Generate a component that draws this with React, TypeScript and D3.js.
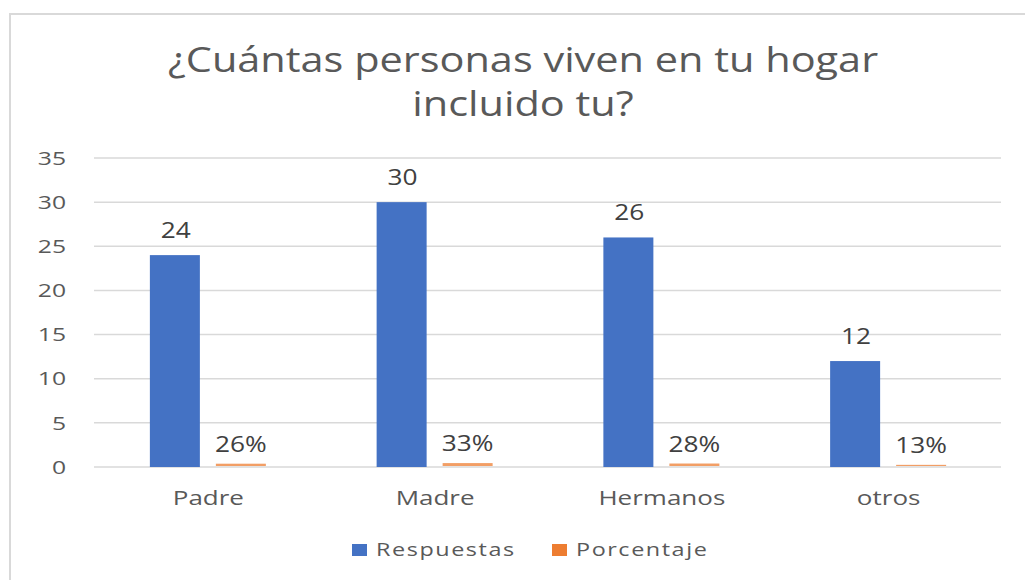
import { useEffect, useRef } from "react";
import * as d3 from "d3";

const categories = ["Padre", "Madre", "Hermanos", "otros"];
const respuestas = [24, 30, 26, 12];
const porcentaje = [0.26, 0.33, 0.28, 0.13];
const porcentajeLabels = ["26%", "33%", "28%", "13%"];
const yTicks = [0, 5, 10, 15, 20, 25, 30, 35];
const titleLines = ["¿Cuántas personas viven en tu hogar", "incluido tu?"];
const seriesNames = ["Respuestas", "Porcentaje"];

const W = 1025;
const H = 580;
const PLOT = { left: 94, right: 1001, top: 158, bottom: 467 };
const BLUE = "#4472C4";
const ORANGE = "#ED7D31";
const TEXT = "#595959";
const FONT = "'Open Sans', 'Noto Sans', sans-serif";
// the source picture is stretched sideways a little
const SX = 1.25;

export default function App() {
  const svgRef = useRef<SVGSVGElement>(null);

  useEffect(() => {
    if (!svgRef.current) return;
    const svg = d3.select(svgRef.current);
    svg.selectAll("*").remove();

    const x = d3
      .scaleBand<string>()
      .domain(categories)
      .range([PLOT.left, PLOT.right]);
    const y = d3.scaleLinear().domain([0, 35]).range([PLOT.bottom, PLOT.top]);

    const barW = 50;
    const gap = 15;

    const put = (tx: number, ty: number, s = SX) => `translate(${tx},${ty}) scale(${s},1)`;

    // chart frame
    svg
      .append("rect")
      .attr("x", 10)
      .attr("y", 14)
      .attr("width", W + 20)
      .attr("height", H + 20)
      .attr("fill", "#fff")
      .attr("stroke", "#d9d9d9")
      .attr("stroke-width", 2);

    // title
    svg
      .append("g")
      .selectAll("text")
      .data(titleLines)
      .join("text")
      .attr("transform", (_, i) => put(523, 72 + i * 44, 1.22))
      .attr("text-anchor", "middle")
      .attr("font-family", FONT)
      .attr("font-size", 34)
      .attr("fill", TEXT)
      .text((d) => d);

    // gridlines
    svg
      .append("g")
      .selectAll("line")
      .data(yTicks)
      .join("line")
      .attr("x1", PLOT.left)
      .attr("x2", PLOT.right)
      .attr("y1", (d) => y(d))
      .attr("y2", (d) => y(d))
      .attr("stroke", "#d9d9d9")
      .attr("stroke-width", 1.5);

    // y tick labels
    svg
      .append("g")
      .selectAll("text")
      .data(yTicks)
      .join("text")
      .attr("transform", (d) => put(66, y(d), 1.3))
      .attr("dy", "0.35em")
      .attr("text-anchor", "end")
      .attr("font-family", FONT)
      .attr("font-size", 19)
      .attr("fill", TEXT)
      .text((d) => d);

    const groups = svg
      .append("g")
      .selectAll("g")
      .data(categories)
      .join("g")
      .attr("transform", (d) => `translate(${(x(d) ?? 0) + x.bandwidth() / 2},0)`);

    // Respuestas bars
    groups
      .append("rect")
      .attr("x", -barW - gap / 2)
      .attr("width", barW)
      .attr("y", (_, i) => y(respuestas[i]))
      .attr("height", (_, i) => y(0) - y(respuestas[i]))
      .attr("fill", BLUE);

    // Porcentaje bars (tiny)
    groups
      .append("rect")
      .attr("x", gap / 2 + 1)
      .attr("width", barW)
      .attr("y", (_, i) => y(porcentaje[i]) - 1)
      .attr("height", (_, i) => y(0) - y(porcentaje[i]))
      .attr("fill", ORANGE)
      .attr("opacity", 0.75);

    // value labels
    groups
      .append("text")
      .attr("transform", (_, i) => put(-barW / 2 - gap / 2 + 1, y(respuestas[i]) - 17))
      .attr("text-anchor", "middle")
      .attr("font-family", FONT)
      .attr("font-size", 21)
      .attr("fill", "#404040")
      .text((_, i) => respuestas[i]);

    groups
      .append("text")
      .attr("transform", (_, i) => put(barW / 2 + gap / 2 + 1, y(porcentaje[i]) - 13))
      .attr("text-anchor", "middle")
      .attr("font-family", FONT)
      .attr("font-size", 21)
      .attr("fill", "#404040")
      .text((_, i) => porcentajeLabels[i]);

    // category labels
    groups
      .append("text")
      .attr("transform", put(1, 505, 1.3))
      .attr("text-anchor", "middle")
      .attr("font-family", FONT)
      .attr("font-size", 20)
      .attr("fill", TEXT)
      .text((d) => d);

    // legend
    const legendX = [352, 552];
    const colors = [BLUE, ORANGE];
    const legend = svg
      .append("g")
      .selectAll("g")
      .data(seriesNames)
      .join("g")
      .attr("transform", (_, i) => `translate(${legendX[i]},550)`);
    legend
      .append("rect")
      .attr("x", 0)
      .attr("y", -6)
      .attr("width", 15)
      .attr("height", 12)
      .attr("fill", (_, i) => colors[i]);
    legend
      .append("text")
      .attr("transform", put(24, 0, 1.3))
      .attr("dy", "0.35em")
      .attr("font-family", FONT)
      .attr("font-size", 18)
      .attr("letter-spacing", 1.2)
      .attr("fill", TEXT)
      .text((d) => d);
  }, []);

  return (
    <svg
      ref={svgRef}
      width={W}
      height={H}
      style={{ position: "absolute", left: 0, top: 0, display: "block" }}
    />
  );
}
